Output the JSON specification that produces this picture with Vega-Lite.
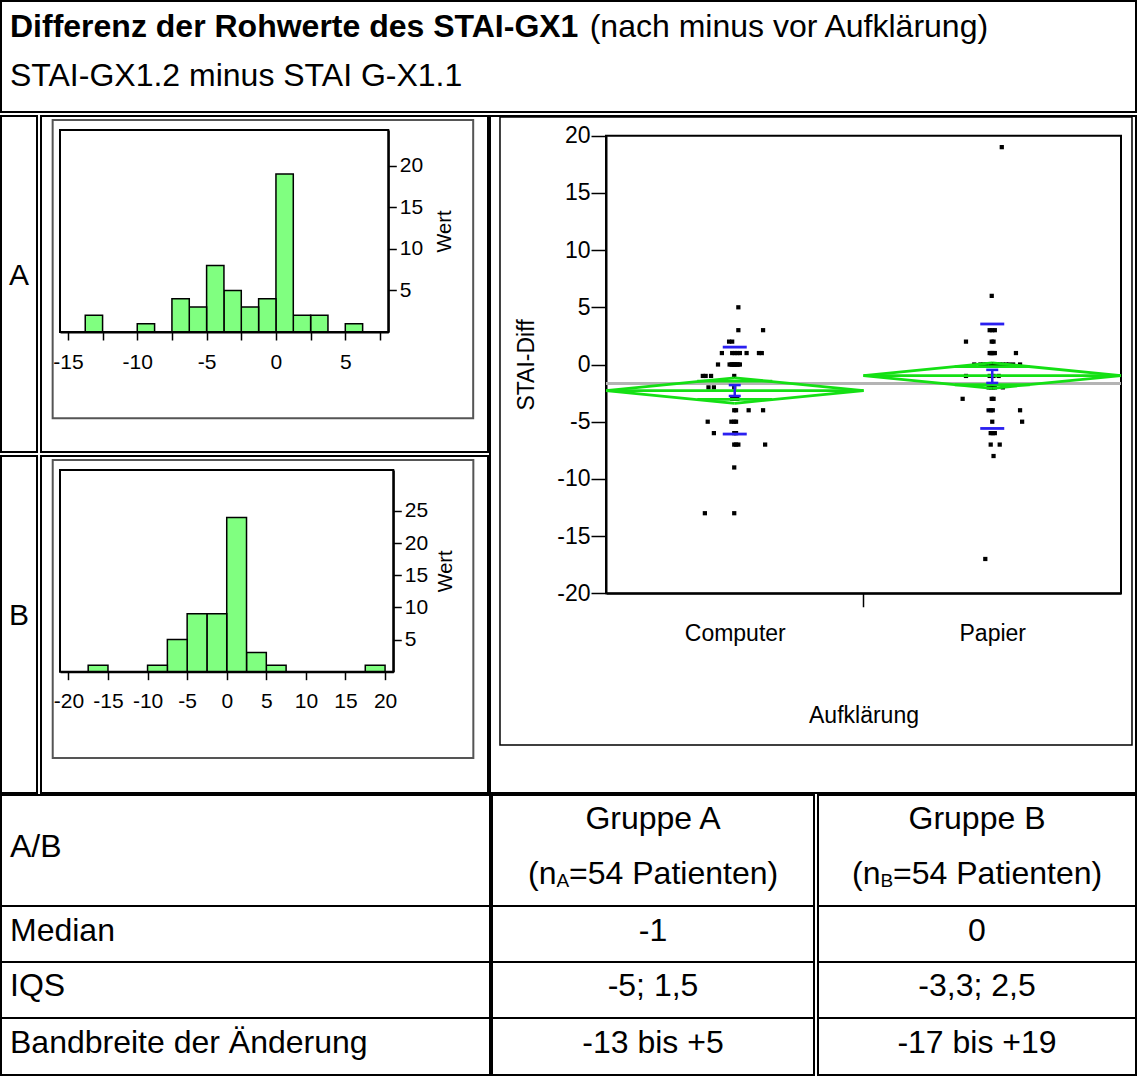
{
  "$schema": "https://vega.github.io/schema/vega-lite/v6.json",
  "padding": 0,
  "background": "white",
  "config": {
    "font": "Liberation Sans",
    "view": {"stroke": "black", "strokeWidth": 2},
    "axis": {"labelFont": "Liberation Sans", "titleFont": "Liberation Sans", "domainColor": "black", "tickColor": "black", "labelColor": "black", "titleColor": "black", "grid": false, "labelFlush": false, "labelOverlap": false, "titleFontWeight": "normal", "labelAngle": 0}
  },
  "datasets": {
    "points": [
      {"gruppe": "Computer", "diff": 5, "pos": 0.514},
      {"gruppe": "Computer", "diff": 3, "pos": 0.514},
      {"gruppe": "Computer", "diff": 3, "pos": 0.61},
      {"gruppe": "Computer", "diff": 2, "pos": 0.478},
      {"gruppe": "Computer", "diff": 2, "pos": 0.49},
      {"gruppe": "Computer", "diff": 1, "pos": 0.45},
      {"gruppe": "Computer", "diff": 1, "pos": 0.546},
      {"gruppe": "Computer", "diff": 1, "pos": 0.594},
      {"gruppe": "Computer", "diff": 1, "pos": 0.605},
      {"gruppe": "Computer", "diff": 1, "pos": 0.5},
      {"gruppe": "Computer", "diff": 1, "pos": 0.51},
      {"gruppe": "Computer", "diff": 1, "pos": 0.49},
      {"gruppe": "Computer", "diff": 1, "pos": 0.52},
      {"gruppe": "Computer", "diff": 0, "pos": 0.435},
      {"gruppe": "Computer", "diff": 0, "pos": 0.487},
      {"gruppe": "Computer", "diff": 0, "pos": 0.498},
      {"gruppe": "Computer", "diff": 0, "pos": 0.506},
      {"gruppe": "Computer", "diff": 0, "pos": 0.514},
      {"gruppe": "Computer", "diff": 0, "pos": 0.49},
      {"gruppe": "Computer", "diff": 0, "pos": 0.5},
      {"gruppe": "Computer", "diff": 0, "pos": 0.52},
      {"gruppe": "Computer", "diff": 0, "pos": 0.48},
      {"gruppe": "Computer", "diff": 0, "pos": 0.51},
      {"gruppe": "Computer", "diff": 0, "pos": 0.495},
      {"gruppe": "Computer", "diff": -1, "pos": 0.376},
      {"gruppe": "Computer", "diff": -1, "pos": 0.387},
      {"gruppe": "Computer", "diff": -1, "pos": 0.408},
      {"gruppe": "Computer", "diff": -1, "pos": 0.498},
      {"gruppe": "Computer", "diff": -2, "pos": 0.398},
      {"gruppe": "Computer", "diff": -2, "pos": 0.419},
      {"gruppe": "Computer", "diff": -2, "pos": 0.498},
      {"gruppe": "Computer", "diff": -3, "pos": 0.495},
      {"gruppe": "Computer", "diff": -3, "pos": 0.503},
      {"gruppe": "Computer", "diff": -3, "pos": 0.51},
      {"gruppe": "Computer", "diff": -3, "pos": 0.49},
      {"gruppe": "Computer", "diff": -3, "pos": 0.5},
      {"gruppe": "Computer", "diff": -4, "pos": 0.498},
      {"gruppe": "Computer", "diff": -4, "pos": 0.554},
      {"gruppe": "Computer", "diff": -4, "pos": 0.61},
      {"gruppe": "Computer", "diff": -4, "pos": 0.505},
      {"gruppe": "Computer", "diff": -5, "pos": 0.395},
      {"gruppe": "Computer", "diff": -5, "pos": 0.487},
      {"gruppe": "Computer", "diff": -5, "pos": 0.498},
      {"gruppe": "Computer", "diff": -5, "pos": 0.505},
      {"gruppe": "Computer", "diff": -6, "pos": 0.419},
      {"gruppe": "Computer", "diff": -6, "pos": 0.498},
      {"gruppe": "Computer", "diff": -6, "pos": 0.505},
      {"gruppe": "Computer", "diff": -7, "pos": 0.498},
      {"gruppe": "Computer", "diff": -7, "pos": 0.514},
      {"gruppe": "Computer", "diff": -7, "pos": 0.618},
      {"gruppe": "Computer", "diff": -7, "pos": 0.505},
      {"gruppe": "Computer", "diff": -9, "pos": 0.498},
      {"gruppe": "Computer", "diff": -13, "pos": 0.384},
      {"gruppe": "Computer", "diff": -13, "pos": 0.498},
      {"gruppe": "Papier", "diff": 19, "pos": 1.537},
      {"gruppe": "Papier", "diff": 6, "pos": 1.498},
      {"gruppe": "Papier", "diff": 3, "pos": 1.49},
      {"gruppe": "Papier", "diff": 3, "pos": 1.51},
      {"gruppe": "Papier", "diff": 3, "pos": 1.5},
      {"gruppe": "Papier", "diff": 2, "pos": 1.398},
      {"gruppe": "Papier", "diff": 2, "pos": 1.498},
      {"gruppe": "Papier", "diff": 2, "pos": 1.505},
      {"gruppe": "Papier", "diff": 1, "pos": 1.49},
      {"gruppe": "Papier", "diff": 1, "pos": 1.498},
      {"gruppe": "Papier", "diff": 1, "pos": 1.592},
      {"gruppe": "Papier", "diff": 1, "pos": 1.505},
      {"gruppe": "Papier", "diff": 1, "pos": 1.51},
      {"gruppe": "Papier", "diff": 1, "pos": 1.495},
      {"gruppe": "Papier", "diff": 0, "pos": 1.43},
      {"gruppe": "Papier", "diff": 0, "pos": 1.454},
      {"gruppe": "Papier", "diff": 0, "pos": 1.465},
      {"gruppe": "Papier", "diff": 0, "pos": 1.478},
      {"gruppe": "Papier", "diff": 0, "pos": 1.494},
      {"gruppe": "Papier", "diff": 0, "pos": 1.498},
      {"gruppe": "Papier", "diff": 0, "pos": 1.506},
      {"gruppe": "Papier", "diff": 0, "pos": 1.51},
      {"gruppe": "Papier", "diff": 0, "pos": 1.518},
      {"gruppe": "Papier", "diff": 0, "pos": 1.529},
      {"gruppe": "Papier", "diff": 0, "pos": 1.541},
      {"gruppe": "Papier", "diff": 0, "pos": 1.554},
      {"gruppe": "Papier", "diff": 0, "pos": 1.565},
      {"gruppe": "Papier", "diff": 0, "pos": 1.581},
      {"gruppe": "Papier", "diff": 0, "pos": 1.608},
      {"gruppe": "Papier", "diff": -1, "pos": 1.398},
      {"gruppe": "Papier", "diff": -1, "pos": 1.525},
      {"gruppe": "Papier", "diff": -1, "pos": 1.49},
      {"gruppe": "Papier", "diff": -1, "pos": 1.505},
      {"gruppe": "Papier", "diff": -2, "pos": 1.486},
      {"gruppe": "Papier", "diff": -2, "pos": 1.502},
      {"gruppe": "Papier", "diff": -2, "pos": 1.541},
      {"gruppe": "Papier", "diff": -2, "pos": 1.495},
      {"gruppe": "Papier", "diff": -2, "pos": 1.51},
      {"gruppe": "Papier", "diff": -3, "pos": 1.385},
      {"gruppe": "Papier", "diff": -3, "pos": 1.498},
      {"gruppe": "Papier", "diff": -3, "pos": 1.505},
      {"gruppe": "Papier", "diff": -4, "pos": 1.486},
      {"gruppe": "Papier", "diff": -4, "pos": 1.502},
      {"gruppe": "Papier", "diff": -4, "pos": 1.608},
      {"gruppe": "Papier", "diff": -4, "pos": 1.495},
      {"gruppe": "Papier", "diff": -5, "pos": 1.616},
      {"gruppe": "Papier", "diff": -5, "pos": 1.5},
      {"gruppe": "Papier", "diff": -6, "pos": 1.494},
      {"gruppe": "Papier", "diff": -6, "pos": 1.502},
      {"gruppe": "Papier", "diff": -6, "pos": 1.51},
      {"gruppe": "Papier", "diff": -7, "pos": 1.494},
      {"gruppe": "Papier", "diff": -7, "pos": 1.529},
      {"gruppe": "Papier", "diff": -8, "pos": 1.505},
      {"gruppe": "Papier", "diff": -17, "pos": 1.473}
    ],
    "summary": [
      {"gruppe": "Computer", "left": 0, "center": 0.5, "right": 1, "mean": -2.28, "ci_lo": -3.39, "ci_hi": -1.17, "ovl_lo": -3.05, "ovl_hi": -1.45, "sd_lo": -6.08, "sd_hi": 1.52, "se_lo": -2.75, "se_hi": -1.8},
      {"gruppe": "Papier", "left": 1, "center": 1.5, "right": 2, "mean": -0.97, "ci_lo": -2.08, "ci_hi": 0.14, "ovl_lo": -1.77, "ovl_hi": -0.19, "sd_lo": -5.59, "sd_hi": 3.54, "se_lo": -1.61, "se_hi": -0.47}
    ],
    "tabelle": [
      {"Zeile": "Median", "A": "-1", "B": "0"},
      {"Zeile": "IQS", "A": "-5; 1,5", "B": "-3,3; 2,5"},
      {"Zeile": "Bandbreite der Änderung", "A": "-13 bis +5", "B": "-17 bis +19"}
    ]
  },
  "vconcat": [
    {
      "width": 1135,
      "height": 111,
      "data": {"values": [{}]},
      "layer": [
        {"mark": {"type": "rect", "filled": false, "stroke": "black", "strokeWidth": 2}, "encoding": {}},
        {"mark": {"type": "text", "text": "Differenz der Rohwerte des STAI-GX1", "fontSize": 32, "fontWeight": "bold", "color": "black", "align": "left", "baseline": "middle", "dx": -558.5, "dy": -29.6}, "encoding": {}},
        {"mark": {"type": "text", "text": "(nach minus vor Aufklärung)", "fontSize": 32, "color": "black", "align": "left", "baseline": "middle", "dx": 21.2, "dy": -29.6}, "encoding": {}},
        {"mark": {"type": "text", "text": "STAI-GX1.2 minus STAI G-X1.1", "fontSize": 32, "color": "black", "align": "left", "baseline": "middle", "dx": -558.5, "dy": 19}, "encoding": {}}
      ]
    },
    {
      "vconcat": [
        {
          "hconcat": [
            {
              "vconcat": [
                {
                  "hconcat": [
                    {"width": 36, "height": 336, "data": {"values": [{}]},
                      "layer": [
                        {"mark": {"type": "rect", "filled": false, "stroke": "black", "strokeWidth": 2}, "encoding": {}},
                        {"mark": {"type": "text", "text": "A", "fontSize": 30, "color": "black", "align": "center", "baseline": "middle", "dy": -8.1}, "encoding": {}}
                      ]},
                    {
                      "width": 447,
                      "height": 336,
                      "layer": [
                        {
                          "data": {"name": "points"},
                          "transform": [
                            {"filter": "datum.gruppe === 'Computer'"},
                            {"bin": {"step": 1.25, "extent": [-15, 10]}, "field": "diff", "as": ["b0", "b1"]},
                            {"aggregate": [{"op": "count", "as": "Wert"}], "groupby": ["b0", "b1"]}
                          ],
                          "mark": {"type": "rect", "fill": "#80FF80", "stroke": "black", "strokeWidth": 1.5},
                          "encoding": {
                            "x": {"field": "b0", "type": "quantitative", "scale": {"domain": [-15.57, 8.1], "range": [19, 347.3], "nice": false, "zero": false},
                              "axis": {"orient": "bottom", "offset": -120, "values": [-15, -12.5, -10, -7.5, -5, -2.5, 0, 2.5, 5, 7.5], "labelExpr": "datum.value % 5 === 0 ? '' + datum.value : ''", "tickSize": 8, "tickWidth": 1.5, "domainWidth": 2, "labelFontSize": 21, "labelPadding": 11, "title": null}},
                            "x2": {"field": "b1"},
                            "y": {"field": "Wert", "type": "quantitative", "scale": {"domain": [0, 24.3], "range": [216, 14], "nice": false, "zero": false},
                              "axis": {"orient": "right", "offset": -99.7, "values": [5, 10, 15, 20], "tickSize": 8, "tickWidth": 1.5, "domainWidth": 2, "labelFontSize": 21, "labelPadding": 3, "title": "Wert", "titleFontSize": 20, "titleAngle": 270, "titleBaseline": "middle", "titlePadding": 22}},
                            "y2": {"datum": 0}
                          }
                        },
                        {
                          "data": {"values": [{}]},
                          "mark": {"type": "rect", "filled": false, "stroke": "#555555", "strokeWidth": 2},
                          "encoding": {
                            "x": {"datum": -16.1, "type": "quantitative"},
                            "x2": {"datum": 14.22},
                            "y": {"datum": 25.51, "type": "quantitative"},
                            "y2": {"datum": -10.39}
                          }
                        },
                        {
                          "data": {"values": [{}]},
                          "mark": {"type": "rect", "filled": false, "stroke": "black", "strokeWidth": 2},
                          "encoding": {
                            "x": {"datum": -15.57, "type": "quantitative"},
                            "x2": {"datum": 8.1},
                            "y": {"datum": 0, "type": "quantitative"},
                            "y2": {"datum": 24.3}
                          }
                        }
                      ]
                    }
                  ],
                  "spacing": 4,
                  "bounds": "flush"
                },
                {
                  "hconcat": [
                    {"width": 36, "height": 337, "data": {"values": [{}]},
                      "layer": [
                        {"mark": {"type": "rect", "filled": false, "stroke": "black", "strokeWidth": 2}, "encoding": {}},
                        {"mark": {"type": "text", "text": "B", "fontSize": 30, "color": "black", "align": "center", "baseline": "middle", "dy": -8.6}, "encoding": {}}
                      ]},
                    {
                      "width": 447,
                      "height": 337,
                      "layer": [
                        {
                          "data": {"name": "points"},
                          "transform": [
                            {"filter": "datum.gruppe === 'Papier'"},
                            {"bin": {"step": 2.5, "extent": [-20, 20]}, "field": "diff", "as": ["b0", "b1"]},
                            {"aggregate": [{"op": "count", "as": "Wert"}], "groupby": ["b0", "b1"]}
                          ],
                          "mark": {"type": "rect", "fill": "#80FF80", "stroke": "black", "strokeWidth": 1.5},
                          "encoding": {
                            "x": {"field": "b0", "type": "quantitative", "scale": {"domain": [-21.06, 21.04], "range": [19, 352.3], "nice": false, "zero": false},
                              "axis": {"orient": "bottom", "offset": -121.3, "values": [-20, -15, -10, -5, 0, 5, 10, 15, 20], "labelExpr": "'' + datum.value", "tickSize": 8, "tickWidth": 1.5, "domainWidth": 2, "labelFontSize": 21, "labelPadding": 11, "title": null}},
                            "x2": {"field": "b1"},
                            "y": {"field": "Wert", "type": "quantitative", "scale": {"domain": [0, 31.37], "range": [215.7, 14], "nice": false, "zero": false},
                              "axis": {"orient": "right", "offset": -94.7, "values": [5, 10, 15, 20, 25], "tickSize": 8, "tickWidth": 1.5, "domainWidth": 2, "labelFontSize": 21, "labelPadding": 3, "title": "Wert", "titleFontSize": 20, "titleAngle": 270, "titleBaseline": "middle", "titlePadding": 18}},
                            "y2": {"datum": 0}
                          }
                        },
                        {
                          "data": {"values": [{}]},
                          "mark": {"type": "rect", "filled": false, "stroke": "#555555", "strokeWidth": 2},
                          "encoding": {
                            "x": {"datum": -21.98, "type": "quantitative"},
                            "x2": {"datum": 31.15},
                            "y": {"datum": 32.92, "type": "quantitative"},
                            "y2": {"datum": -13.42}
                          }
                        },
                        {
                          "data": {"values": [{}]},
                          "mark": {"type": "rect", "filled": false, "stroke": "black", "strokeWidth": 2},
                          "encoding": {
                            "x": {"datum": -21.06, "type": "quantitative"},
                            "x2": {"datum": 21.04},
                            "y": {"datum": 0, "type": "quantitative"},
                            "y2": {"datum": 31.37}
                          }
                        }
                      ]
                    }
                  ],
                  "spacing": 4,
                  "bounds": "flush"
                }
              ],
              "spacing": 2
            },
            {
              "width": 646,
              "height": 677,
              "layer": [
                {
                  "data": {"name": "points"},
                  "mark": {"type": "square", "size": 18, "color": "black", "filled": true, "opacity": 1},
                  "encoding": {
                    "x": {"field": "pos", "type": "quantitative", "scale": {"domain": [0, 2], "range": [116, 631], "nice": false, "zero": false},
                      "axis": {"orient": "bottom", "offset": -199.7, "values": [0.5, 1.5], "labelExpr": "datum.value === 0.5 ? 'Computer' : 'Papier'", "tickSize": 14, "tickOpacity": 0, "domainWidth": 2, "labelFontSize": 23, "labelPadding": 15, "title": "Aufklärung", "titleFontSize": 23, "titlePadding": 59}},
                    "y": {"field": "diff", "type": "quantitative", "scale": {"domain": [-20, 20], "range": [477.3, 19.7], "nice": false, "zero": false},
                      "axis": {"orient": "left", "offset": -116, "values": [-20, -15, -10, -5, 0, 5, 10, 15, 20], "labelExpr": "'' + datum.value", "tickSize": 15, "tickWidth": 1.5, "domainWidth": 2, "labelFontSize": 23, "labelPadding": 1, "title": "STAI-Diff", "titleFontSize": 23, "titlePadding": 18}}
                  }
                },
                {
                  "data": {"values": [{}]},
                  "mark": {"type": "rect", "filled": false, "stroke": "black", "strokeWidth": 1.5},
                  "encoding": {
                    "x": {"datum": -0.4117, "type": "quantitative"},
                    "x2": {"datum": 2.0427},
                    "y": {"datum": 21.63, "type": "quantitative"},
                    "y2": {"datum": -33.26}
                  }
                },
                {
                  "data": {"values": [{}]},
                  "mark": {"type": "rect", "filled": false, "stroke": "black", "strokeWidth": 2},
                  "encoding": {
                    "x": {"datum": 0, "type": "quantitative"},
                    "x2": {"datum": 2},
                    "y": {"datum": -20, "type": "quantitative"},
                    "y2": {"datum": 20}
                  }
                },
                {
                  "data": {"values": [{}]},
                  "mark": {"type": "rule", "color": "black", "strokeWidth": 1.5},
                  "encoding": {
                    "x": {"datum": 1, "type": "quantitative"},
                    "y": {"datum": -20, "type": "quantitative"},
                    "y2": {"datum": -21.22}
                  }
                },
                {
                  "data": {"name": "points"},
                  "transform": [{"aggregate": [{"op": "mean", "field": "diff", "as": "gesamt"}]}],
                  "mark": {"type": "rule", "color": "#B4B4B4", "strokeWidth": 3},
                  "encoding": {
                    "x": {"datum": 0, "type": "quantitative"},
                    "x2": {"datum": 2},
                    "y": {"field": "gesamt", "type": "quantitative"}
                  }
                },
                {
                  "data": {"name": "summary"},
                  "transform": [{"fold": ["ci_lo", "ci_hi"], "as": ["grenze", "ci"]}],
                  "mark": {"type": "rule", "color": "#14E014", "strokeWidth": 2.8},
                  "encoding": {
                    "x": {"field": "left", "type": "quantitative"},
                    "y": {"field": "mean", "type": "quantitative"},
                    "x2": {"field": "center"},
                    "y2": {"field": "ci"}
                  }
                },
                {
                  "data": {"name": "summary"},
                  "transform": [{"fold": ["ci_lo", "ci_hi"], "as": ["grenze", "ci"]}],
                  "mark": {"type": "rule", "color": "#14E014", "strokeWidth": 2.8},
                  "encoding": {
                    "x": {"field": "center", "type": "quantitative"},
                    "y": {"field": "ci", "type": "quantitative"},
                    "x2": {"field": "right"},
                    "y2": {"field": "mean"}
                  }
                },
                {
                  "data": {"name": "summary"},
                  "mark": {"type": "rule", "color": "#14E014", "strokeWidth": 2.8},
                  "encoding": {
                    "x": {"field": "left", "type": "quantitative"},
                    "x2": {"field": "right"},
                    "y": {"field": "mean", "type": "quantitative"}
                  }
                },
                {
                  "data": {"name": "summary"},
                  "transform": [{"fold": ["ovl_lo", "ovl_hi"], "as": ["grenze", "ovl"]}],
                  "mark": {"type": "tick", "orient": "horizontal", "size": 75, "thickness": 2.8, "color": "#14E014", "opacity": 1},
                  "encoding": {
                    "x": {"field": "center", "type": "quantitative"},
                    "y": {"field": "ovl", "type": "quantitative"}
                  }
                },
                {
                  "data": {"name": "summary"},
                  "transform": [{"fold": ["sd_lo", "sd_hi"], "as": ["grenze", "sd"]}],
                  "mark": {"type": "tick", "orient": "horizontal", "size": 24, "thickness": 2.8, "color": "#2A1FF0", "opacity": 1},
                  "encoding": {
                    "x": {"field": "center", "type": "quantitative"},
                    "y": {"field": "sd", "type": "quantitative"}
                  }
                },
                {
                  "data": {"name": "summary"},
                  "mark": {"type": "rule", "color": "#2A1FF0", "strokeWidth": 2.5},
                  "encoding": {
                    "x": {"field": "center", "type": "quantitative"},
                    "y": {"field": "se_lo", "type": "quantitative"},
                    "y2": {"field": "se_hi"}
                  }
                },
                {
                  "data": {"name": "summary"},
                  "transform": [{"fold": ["se_lo", "se_hi"], "as": ["grenze", "se"]}],
                  "mark": {"type": "tick", "orient": "horizontal", "size": 12, "thickness": 2.5, "color": "#2A1FF0", "opacity": 1},
                  "encoding": {
                    "x": {"field": "center", "type": "quantitative"},
                    "y": {"field": "se", "type": "quantitative"}
                  }
                }
              ]
            }
          ],
          "spacing": 0
        },
        {
          "hconcat": [
            {
              "vconcat": [
                {"width": 489, "height": 111, "data": {"values": [{}]}, "layer": [
                  {"mark": {"type": "rect", "filled": false, "stroke": "black", "strokeWidth": 2}, "encoding": {}},
                  {"mark": {"type": "text", "text": "A/B", "fontSize": 32, "color": "black", "align": "left", "baseline": "middle", "dx": -235.5, "dy": -3.6}, "encoding": {}}
                ]},
                {"width": 489, "height": 56, "data": {"name": "tabelle"}, "transform": [{"filter": "datum.Zeile === 'Median'"}], "layer": [
                  {"mark": {"type": "rect", "filled": false, "stroke": "black", "strokeWidth": 2}, "encoding": {}},
                  {"mark": {"type": "text", "fontSize": 32, "color": "black", "align": "left", "baseline": "middle", "dx": -235.5, "dy": -3.1}, "encoding": {"text": {"field": "Zeile"}}}
                ]},
                {"width": 489, "height": 56, "data": {"name": "tabelle"}, "transform": [{"filter": "datum.Zeile === 'IQS'"}], "layer": [
                  {"mark": {"type": "rect", "filled": false, "stroke": "black", "strokeWidth": 2}, "encoding": {}},
                  {"mark": {"type": "text", "fontSize": 32, "color": "black", "align": "left", "baseline": "middle", "dx": -235.5, "dy": -4.1}, "encoding": {"text": {"field": "Zeile"}}}
                ]},
                {"width": 489, "height": 57, "data": {"name": "tabelle"}, "transform": [{"filter": "datum.Zeile === 'Bandbreite der Änderung'"}], "layer": [
                  {"mark": {"type": "rect", "filled": false, "stroke": "black", "strokeWidth": 2}, "encoding": {}},
                  {"mark": {"type": "text", "fontSize": 32, "color": "black", "align": "left", "baseline": "middle", "dx": -235.5, "dy": -3.6}, "encoding": {"text": {"field": "Zeile"}}}
                ]}
              ],
              "spacing": 0,
              "bounds": "flush"
            },
            {
              "hconcat": [
                {
                  "vconcat": [
                    {"width": 322, "height": 111, "data": {"values": [{}]}, "layer": [
                      {"mark": {"type": "rect", "filled": false, "stroke": "black", "strokeWidth": 2}, "encoding": {}},
                      {"mark": {"type": "text", "text": "Gruppe A", "fontSize": 32, "color": "black", "align": "center", "baseline": "middle", "dy": -31.9}, "encoding": {}},
                      {"mark": {"type": "text", "text": "(n", "fontSize": 32, "color": "black", "align": "left", "baseline": "middle", "dx": -125, "dy": 23.4}, "encoding": {}},
                      {"mark": {"type": "text", "text": "A", "fontSize": 19, "color": "black", "align": "left", "baseline": "middle", "dx": -96.6, "dy": 30.3}, "encoding": {}},
                      {"mark": {"type": "text", "text": "=54 Patienten)", "fontSize": 32, "color": "black", "align": "left", "baseline": "middle", "dx": -83.9, "dy": 23.4}, "encoding": {}}
                    ]},
                    {"width": 322, "height": 56, "data": {"name": "tabelle"}, "transform": [{"filter": "datum.Zeile === 'Median'"}], "layer": [
                      {"mark": {"type": "rect", "filled": false, "stroke": "black", "strokeWidth": 2}, "encoding": {}},
                      {"mark": {"type": "text", "fontSize": 32, "color": "black", "align": "center", "baseline": "middle", "dy": -3.1}, "encoding": {"text": {"field": "A"}}}
                    ]},
                    {"width": 322, "height": 56, "data": {"name": "tabelle"}, "transform": [{"filter": "datum.Zeile === 'IQS'"}], "layer": [
                      {"mark": {"type": "rect", "filled": false, "stroke": "black", "strokeWidth": 2}, "encoding": {}},
                      {"mark": {"type": "text", "fontSize": 32, "color": "black", "align": "center", "baseline": "middle", "dy": -4.1}, "encoding": {"text": {"field": "A"}}}
                    ]},
                    {"width": 322, "height": 57, "data": {"name": "tabelle"}, "transform": [{"filter": "datum.Zeile === 'Bandbreite der Änderung'"}], "layer": [
                      {"mark": {"type": "rect", "filled": false, "stroke": "black", "strokeWidth": 2}, "encoding": {}},
                      {"mark": {"type": "text", "fontSize": 32, "color": "black", "align": "center", "baseline": "middle", "dy": -3.6}, "encoding": {"text": {"field": "A"}}}
                    ]}
                  ],
                  "spacing": 0,
                  "bounds": "flush"
                },
                {
                  "vconcat": [
                    {"width": 318, "height": 111, "data": {"values": [{}]}, "layer": [
                      {"mark": {"type": "rect", "filled": false, "stroke": "black", "strokeWidth": 2}, "encoding": {}},
                      {"mark": {"type": "text", "text": "Gruppe B", "fontSize": 32, "color": "black", "align": "center", "baseline": "middle", "dy": -31.9}, "encoding": {}},
                      {"mark": {"type": "text", "text": "(n", "fontSize": 32, "color": "black", "align": "left", "baseline": "middle", "dx": -125, "dy": 23.4}, "encoding": {}},
                      {"mark": {"type": "text", "text": "B", "fontSize": 19, "color": "black", "align": "left", "baseline": "middle", "dx": -96.6, "dy": 30.3}, "encoding": {}},
                      {"mark": {"type": "text", "text": "=54 Patienten)", "fontSize": 32, "color": "black", "align": "left", "baseline": "middle", "dx": -83.9, "dy": 23.4}, "encoding": {}}
                    ]},
                    {"width": 318, "height": 56, "data": {"name": "tabelle"}, "transform": [{"filter": "datum.Zeile === 'Median'"}], "layer": [
                      {"mark": {"type": "rect", "filled": false, "stroke": "black", "strokeWidth": 2}, "encoding": {}},
                      {"mark": {"type": "text", "fontSize": 32, "color": "black", "align": "center", "baseline": "middle", "dy": -3.1}, "encoding": {"text": {"field": "B"}}}
                    ]},
                    {"width": 318, "height": 56, "data": {"name": "tabelle"}, "transform": [{"filter": "datum.Zeile === 'IQS'"}], "layer": [
                      {"mark": {"type": "rect", "filled": false, "stroke": "black", "strokeWidth": 2}, "encoding": {}},
                      {"mark": {"type": "text", "fontSize": 32, "color": "black", "align": "center", "baseline": "middle", "dy": -4.1}, "encoding": {"text": {"field": "B"}}}
                    ]},
                    {"width": 318, "height": 57, "data": {"name": "tabelle"}, "transform": [{"filter": "datum.Zeile === 'Bandbreite der Änderung'"}], "layer": [
                      {"mark": {"type": "rect", "filled": false, "stroke": "black", "strokeWidth": 2}, "encoding": {}},
                      {"mark": {"type": "text", "fontSize": 32, "color": "black", "align": "center", "baseline": "middle", "dy": -3.6}, "encoding": {"text": {"field": "B"}}}
                    ]}
                  ],
                  "spacing": 0,
                  "bounds": "flush"
                }
              ],
              "spacing": 2
            }
          ],
          "spacing": 0
        }
      ],
      "spacing": 0
    }
  ],
  "spacing": 2
}
